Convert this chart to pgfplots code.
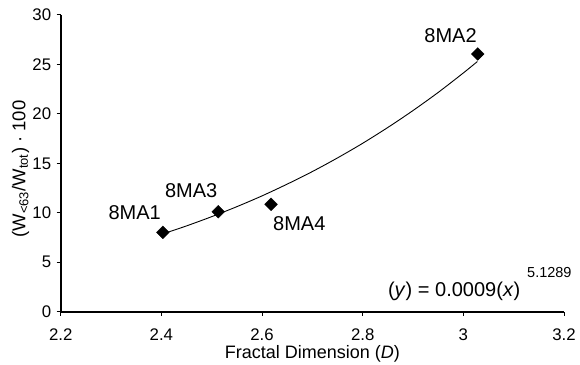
\documentclass[border=0pt]{standalone}
\usepackage{pgfplots}
\pgfplotsset{compat=1.18}
\usepackage{fontspec}
\setmainfont{Liberation Sans}
\begin{document}
\begin{tikzpicture}
\begin{axis}[
  at={(0,0)}, anchor=south west,
  width=503.3pt, height=296.7pt, scale only axis,
  xmin=2.2, xmax=3.2, ymin=0, ymax=30,
  xtick={2.2,2.4,2.6,2.8,3,3.2},
  ytick={0,5,10,15,20,25,30},
  axis x line*=bottom, axis y line*=left,
  axis line style={line width=2pt,-},
  tick style={black,line width=1pt},
  major tick length=4pt, tick align=outside,
  /pgf/number format/assume math mode=true,
  tick label style={font=\fontsize{16.8}{20}\selectfont},
  xticklabel style={yshift=-9.5pt},
  yticklabel style={xshift=-2pt},
  xlabel={Fractal Dimension (\textit{D})},
  xlabel style={font=\fontsize{18}{21}\selectfont, at={(axis description cs:0.5,-0.159)}, anchor=base},
  ylabel={(W\textsubscript{<63}/W\textsubscript{tot}) · 100},
  ylabel style={font=\fontsize{18.5}{21}\selectfont, at={(axis description cs:-0.0799,0.481)}, anchor=center},
  clip=false,
]
\addplot[black, line width=0.9pt, smooth] coordinates {
  (2.403,7.87) (2.45,8.675) (2.5,9.61) (2.55,10.62) (2.6,11.71) (2.65,12.90)
  (2.7,14.17) (2.75,15.55) (2.8,17.03) (2.85,18.63) (2.9,20.34) (2.95,22.17)
  (3.0,24.14) (3.028,25.3)
};
\addplot[only marks, mark=square*, mark size=4.5pt, mark options={black, rotate=45}] coordinates {
  (2.403,8.03) (2.513,10.1) (2.618,10.86) (3.0285,26.06)
};
\node[anchor=base, font=\fontsize{20}{24}\selectfont] at (axis cs:2.347,9.37) {8MA1};
\node[anchor=base, font=\fontsize{20}{24}\selectfont] at (axis cs:2.4593,11.57) {8MA3};
\node[anchor=base, font=\fontsize{20}{24}\selectfont] at (axis cs:2.674,8.19) {8MA4};
\node[anchor=base, font=\fontsize{20}{24}\selectfont] at (axis cs:2.9745,27.24) {8MA2};
\node[anchor=base west, inner sep=0pt, font=\fontsize{20}{24}\selectfont] at (axis cs:2.85,1.49) {(\textit{y}) = 0.0009(\textit{x})};
\node[anchor=base west, inner sep=0pt, font=\fontsize{14.5}{17}\selectfont] at (axis cs:3.1265,3.48) {5.1289};
\end{axis}
\pgfresetboundingbox
\path[use as bounding box] (-60.7pt,-52.3pt) rectangle (519.3pt,311.7pt);
\end{tikzpicture}
\end{document}
